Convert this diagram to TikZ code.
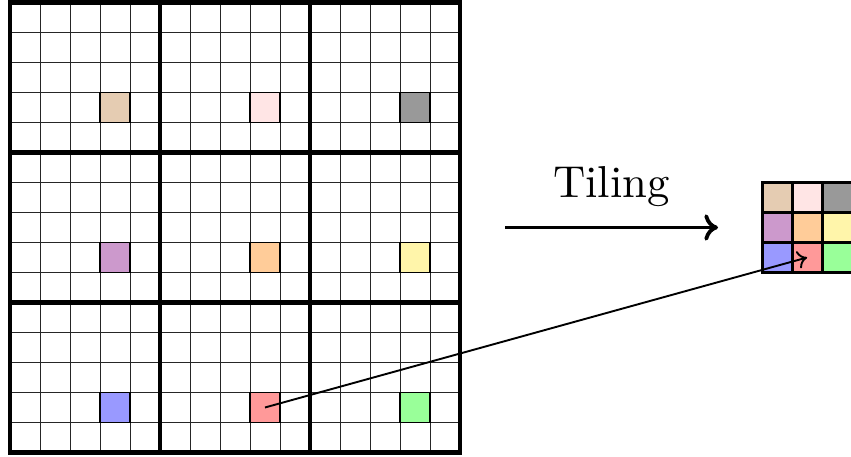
\documentclass[tikz,border=0pt]{standalone}
\usepackage{graphicx}
\usetikzlibrary{arrows.meta}
\begin{document}
\begin{tikzpicture}[x=0.5cm,y=0.5cm,
  thinline/.style={line width=0.45pt,black!85},
  blockline/.style={line width=2pt,black},
  cell/.style={draw=black,line width=0.9pt,minimum size=0.5cm,inner sep=0pt,outer sep=0pt,anchor=south west},
  smallcell/.style={draw=black,line width=1.4pt,minimum size=0.5cm,inner sep=0pt,outer sep=0pt,anchor=south west},
  maparrow/.style={-{To[length=4.5pt,width=8.5pt]},line width=0.9pt},
  tilearrow/.style={-{To[length=6.5pt,width=12.5pt]},line width=1.8pt}]
\definecolor{cA}{HTML}{E5CCB2}
\definecolor{cB}{HTML}{FFE5E5}
\definecolor{cC}{HTML}{999999}
\definecolor{cD}{HTML}{CC99CC}
\definecolor{cE}{HTML}{FFCC99}
\definecolor{cF}{HTML}{FFF5AA}
\definecolor{cG}{HTML}{9999FF}
\definecolor{cH}{HTML}{FF9999}
\definecolor{cI}{HTML}{99FF99}
\useasboundingbox (-0.333,-0.15) rectangle (28.033,15.083);
% fine grid
\draw[thinline,step=0.5cm] (0,0) grid (15,15);
% colored cells
\node[cell,fill=cA] (a) at (3,11) {};
\node[cell,fill=cB] (b) at (8,11) {};
\node[cell,fill=cC] (c) at (13,11) {};
\node[cell,fill=cD] (d) at (3,6) {};
\node[cell,fill=cE] (e) at (8,6) {};
\node[cell,fill=cF] (f) at (13,6) {};
\node[cell,fill=cG] (g) at (3,1) {};
\node[cell,fill=cH] (h) at (8,1) {};
\node[cell,fill=cI] (i) at (13,1) {};
% block lines
\draw[blockline,step=2.5cm] (0,0) grid (15,15);
\draw[blockline] (0,0) rectangle (15,15);
% small tiled grid
\node[smallcell,fill=cA] (sa) at (25.07,8) {};
\node[smallcell,fill=cB] (sb) at (26.07,8) {};
\node[smallcell,fill=cC] (sc) at (27.07,8) {};
\node[smallcell,fill=cD] (sd) at (25.07,7) {};
\node[smallcell,fill=cE] (se) at (26.07,7) {};
\node[smallcell,fill=cF] (sf) at (27.07,7) {};
\node[smallcell,fill=cG] (sg) at (25.07,6) {};
\node[smallcell,fill=cH] (sh) at (26.07,6) {};
\node[smallcell,fill=cI] (si) at (27.07,6) {};
% tiling arrow
\coordinate (t1) at (16.5,7.5);
\coordinate (t2) at (23.6,7.5);
\draw[tilearrow] (t1) -- (t2);
\node[anchor=base,inner sep=0pt] (lbl) at (20.05,8.5) {\scalebox{2.12}{Tiling}};
% mapping arrow
\draw[maparrow] (h.center) -- (sh.center);
\end{tikzpicture}
\end{document}
